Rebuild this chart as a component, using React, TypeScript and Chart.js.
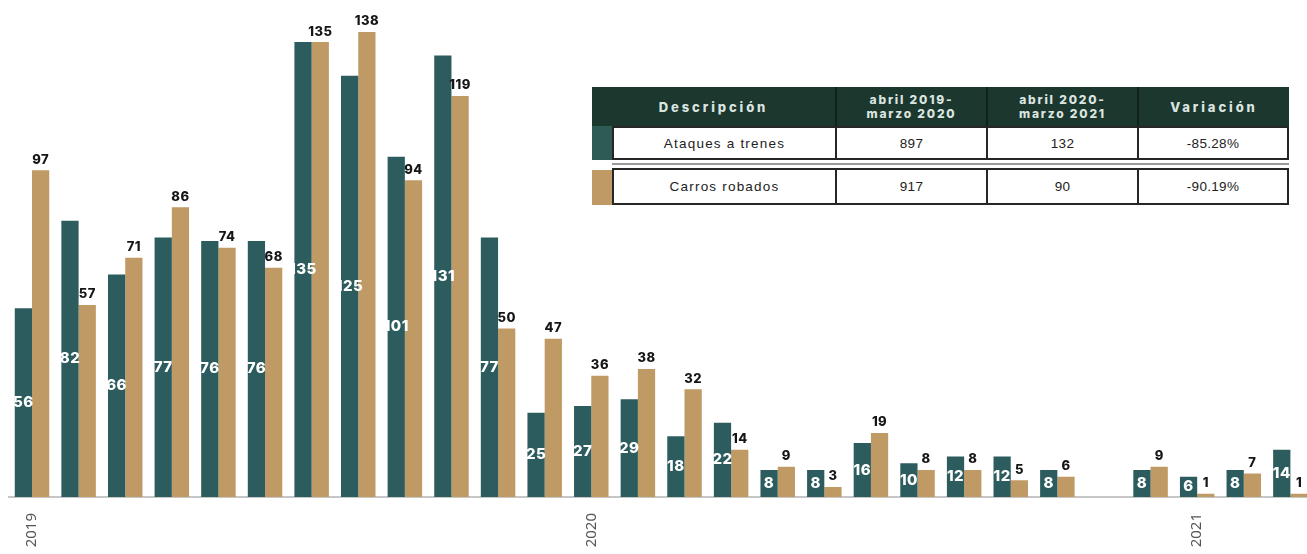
import React, { useEffect, useRef } from "react";
import { Chart, registerables } from "chart.js";

Chart.register(...registerables);

// Monthly categories (one blank spacer slot between Nov-2020 and Dec-2020)
const categories: string[] = [
  "2019-01", "2019-02", "2019-03", "2019-04", "2019-05", "2019-06",
  "2019-07", "2019-08", "2019-09", "2019-10", "2019-11", "2019-12",
  "2020-01", "2020-02", "2020-03", "2020-04", "2020-05", "2020-06",
  "2020-07", "2020-08", "2020-09", "2020-10", "2020-11", "",
  "2020-12", "2021-01", "2021-02", "2021-03",
];

const ataquesTrenes: (number | null)[] = [
  56, 82, 66, 77, 76, 76, 135, 125, 101, 131, 77, 25,
  27, 29, 18, 22, 8, 8, 16, 10, 12, 12, 8, null,
  8, 6, 8, 14,
];

const carrosRobados: (number | null)[] = [
  97, 57, 71, 86, 74, 68, 135, 138, 94, 119, 50, 47,
  36, 38, 32, 14, 9, 3, 19, 8, 8, 5, 6, null,
  9, 1, 7, 1,
];

const tableHeaders: string[][] = [
  ["Descripción"],
  ["abril 2019-", "marzo 2020"],
  ["abril 2020-", "marzo 2021"],
  ["Variación"],
];
const tableRows: string[][] = [
  ["Ataques a trenes", "897", "132", "-85.28%"],
  ["Carros robados", "917", "90", "-90.19%"],
];

const TEAL = "#2d5c5e";
const TAN = "#bf9a65";

const labelPlugin = {
  id: "barLabels",
  afterDatasetsDraw(chart: any) {
    const ctx = chart.ctx;
    chart.data.datasets.forEach((ds: any, di: number) => {
      const meta = chart.getDatasetMeta(di);
      meta.data.forEach((bar: any, i: number) => {
        const v = ds.data[i];
        if (v == null) return;
        const { x, y, base } = bar.getProps(["x", "y", "base"], true);
        ctx.save();
        ctx.textAlign = "center";
        if ((ctx as any).letterSpacing !== undefined) (ctx as any).letterSpacing = "0.5px";
        if (di === 0) {
          ctx.fillStyle = "#ffffff";
          ctx.font = "800 15px Inter";
          ctx.textBaseline = "middle";
          ctx.fillText(String(v), x, (y + base) / 2);
        } else {
          ctx.fillStyle = "#151515";
          ctx.font = "800 13px Inter";
          ctx.textBaseline = "bottom";
          ctx.fillText(String(v), x, y - 4);
        }
        ctx.restore();
      });
    });
  },
};

const colX = [612, 835, 986, 1137, 1289];

export default function App() {
  const ref = useRef<HTMLCanvasElement | null>(null);

  useEffect(() => {
    if (!ref.current) return;
    const chart = new Chart(ref.current, {
      type: "bar",
      data: {
        labels: categories,
        datasets: [
          {
            label: "Ataques a trenes",
            data: ataquesTrenes,
            backgroundColor: TEAL,
            categoryPercentage: 0.74,
            barPercentage: 1.0,
          },
          {
            label: "Carros robados",
            data: carrosRobados,
            backgroundColor: TAN,
            categoryPercentage: 0.74,
            barPercentage: 1.0,
          },
        ],
      },
      options: {
        responsive: false,
        animation: false,
        devicePixelRatio: 1,
        layout: { padding: { left: 8.7, right: 6.3, top: 0, bottom: 0 } },
        plugins: {
          legend: { display: false },
          tooltip: { enabled: false },
          title: { display: false },
        },
        scales: {
          x: {
            grid: { display: false },
            border: { display: true, color: "#c6c6c6", width: 2 },
            ticks: {
              autoSkip: false,
              minRotation: 90,
              maxRotation: 90,
              padding: 8,
              color: "#555555",
              font: { family: "Noto Sans", size: 15 },
              callback: (_v: any, idx: number) => {
                const c = categories[idx];
                return c && c.endsWith("-01") ? c.slice(0, 4) : "";
              },
            },
            afterFit: (scale: any) => {
              scale.height = 57;
            },
          },
          y: {
            display: false,
            min: 0,
            max: 147.5,
          },
        },
      },
      plugins: [labelPlugin],
    });
    return () => chart.destroy();
  }, []);

  const headerFont = "Inter, 'DejaVu Sans', sans-serif";
  const bodyFont = "'Liberation Sans', Arial, sans-serif";

  return (
    <div
      style={{
        position: "fixed",
        left: 0,
        top: 0,
        width: 1307,
        height: 554,
        overflow: "hidden",
        background: "#ffffff",
      }}
    >
      <canvas ref={ref} width={1320} height={554} style={{ position: "absolute", left: 0, top: 0, width: 1320, height: 554 }} />
      {/* Summary table */}
      <div
        style={{
          position: "absolute",
          left: 592,
          top: 87,
          width: 697,
          height: 39,
          background: "#1b372e",
        }}
      />
      {tableHeaders.map((lines, ci) => {
        const left = ci === 0 ? 592 : colX[ci];
        const right = colX[ci + 1];
        return (
          <div
            key={"h" + ci}
            style={{
              position: "absolute",
              left,
              top: 87,
              width: right - left,
              height: 39,
              display: "flex",
              flexDirection: "column",
              alignItems: "center",
              justifyContent: "center",
              color: "#dbe5e0",
              fontFamily: headerFont,
              fontWeight: 800,
              fontSize: lines.length > 1 ? 12 : 13,
              letterSpacing: lines.length > 1 ? "1.8px" : "2.9px",
              lineHeight: "14px",
              borderLeft: ci > 0 ? "2px solid #0e211b" : "none",
              boxSizing: "border-box",
            }}
          >
            {lines.map((l, li) => (
              <div key={li}>{l}</div>
            ))}
          </div>
        );
      })}
      {tableRows.map((row, ri) => {
        const top = ri === 0 ? 126 : 168;
        const h = ri === 0 ? 34 : 37;
        return (
          <React.Fragment key={"r" + ri}>
            <div
              style={{
                position: "absolute",
                left: 592,
                top: ri === 0 ? 126 : 170,
                width: 20,
                height: ri === 0 ? 34 : 35,
                background: ri === 0 ? "#2e5b55" : TAN,
              }}
            />
            {row.map((cell, ci) => (
              <div
                key={ci}
                style={{
                  position: "absolute",
                  left: colX[ci],
                  top,
                  width: colX[ci + 1] - colX[ci] + (ci < 3 ? 2 : 0),
                  height: h,
                  border: "2px solid #262626",
                  boxSizing: "border-box",
                  background: "#ffffff",
                  display: "flex",
                  alignItems: "center",
                  justifyContent: "center",
                  fontFamily: bodyFont,
                  fontSize: 13.5,
                  letterSpacing: ci === 0 ? "1.2px" : "0.3px",
                  color: "#222222",
                }}
              >
                {cell}
              </div>
            ))}
          </React.Fragment>
        );
      })}
      <div
        style={{
          position: "absolute",
          left: 612,
          top: 163,
          width: 677,
          height: 2,
          background: "#9a9a9a",
        }}
      />
    </div>
  );
}
